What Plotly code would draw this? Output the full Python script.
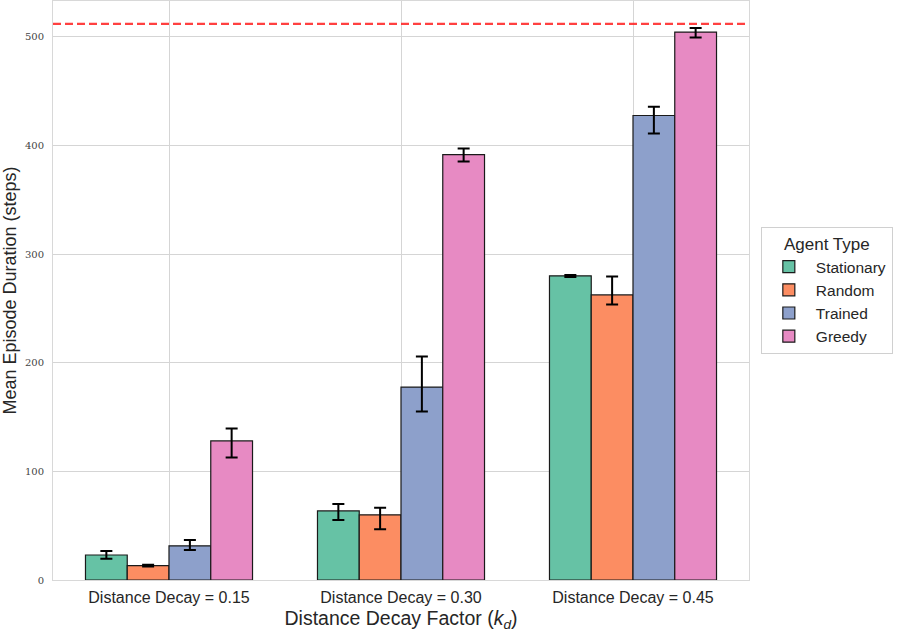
import plotly.graph_objects as go

categories = ["Distance Decay = 0.15", "Distance Decay = 0.30", "Distance Decay = 0.45"]
agents = ["Stationary", "Random", "Trained", "Greedy"]
colors = ["#66c2a5", "#fc8d62", "#8da0cb", "#e78ac3"]

means = {
    "Stationary": [23.0, 63.6, 280.0],
    "Random": [13.2, 60.0, 262.4],
    "Trained": [31.5, 177.6, 427.6],
    "Greedy": [128.0, 391.5, 504.4],
}
upper = {
    "Stationary": [26.7, 70.0, 280.8],
    "Random": [14.0, 66.6, 279.5],
    "Trained": [36.9, 205.8, 435.6],
    "Greedy": [139.5, 397.2, 508.1],
}
lower = {
    "Stationary": [19.5, 55.3, 279.0],
    "Random": [12.5, 46.7, 253.5],
    "Trained": [27.6, 155.1, 411.0],
    "Greedy": [112.7, 385.3, 499.5],
}
max_steps = 512
y_ticks = [0, 100, 200, 300, 400, 500]

fig = go.Figure()
for agent, col in zip(agents, colors):
    m = means[agent]
    fig.add_trace(go.Bar(
        name=agent, x=categories, y=m,
        marker=dict(color=col, line=dict(color="#1a1a1a", width=1.2)),
        error_y=dict(type="data", symmetric=False,
                     array=[u - v for u, v in zip(upper[agent], m)],
                     arrayminus=[v - l for v, l in zip(m, lower[agent])],
                     color="black", thickness=2, width=6),
    ))

fig.add_shape(type="line", xref="paper", yref="y", x0=0, x1=1, y0=max_steps, y1=max_steps,
              line=dict(color="rgba(255,30,30,0.85)", width=2.2, dash="8px,4px"))

fig.update_layout(
    width=897, height=632,
    margin=dict(l=53, r=148, t=1, b=52, autoexpand=False),
    barmode="group", bargap=0.28, bargroupgap=0,
    plot_bgcolor="white", paper_bgcolor="white",
    font=dict(family="Liberation Sans, Arial, sans-serif", color="#262626"),
    showlegend=True,
    legend=dict(
        title=dict(text="Agent Type", side="top center", font=dict(size=17)),
        x=1.017, xanchor="left", y=0.5, yanchor="middle",
        bordercolor="#d0d0d0", borderwidth=1, font=dict(size=15.5),
        bgcolor="white", tracegroupgap=3, itemwidth=44,
    ),
    xaxis=dict(
        range=[-0.5, 2.5], showgrid=True, gridcolor="#d5d5d5", gridwidth=1,
        showline=True, linecolor="#d8d8d8", linewidth=1, mirror=True,
        tickfont=dict(size=16), ticks="", automargin=False, ticklabelstandoff=3,
        title=dict(text="Distance Decay Factor (<i>k<sub>d</sub></i>)", font=dict(size=19.5), standoff=8),
    ),
    yaxis=dict(
        range=[0, 533], tickvals=y_ticks, showgrid=True, gridcolor="#d5d5d5", gridwidth=1,
        showline=True, linecolor="#d8d8d8", linewidth=1, mirror=True, zeroline=False,
        tickfont=dict(size=10, family="DejaVu Serif, Liberation Serif, serif", color="#444"),
        ticks="", automargin=False, ticklabelstandoff=6,
        title=dict(text="Mean Episode Duration (steps)", font=dict(size=18), standoff=12),
    ),
)

fig.write_html("out.html", config={"displayModeBar": False},
               post_script="document.body.style.margin='0';")
